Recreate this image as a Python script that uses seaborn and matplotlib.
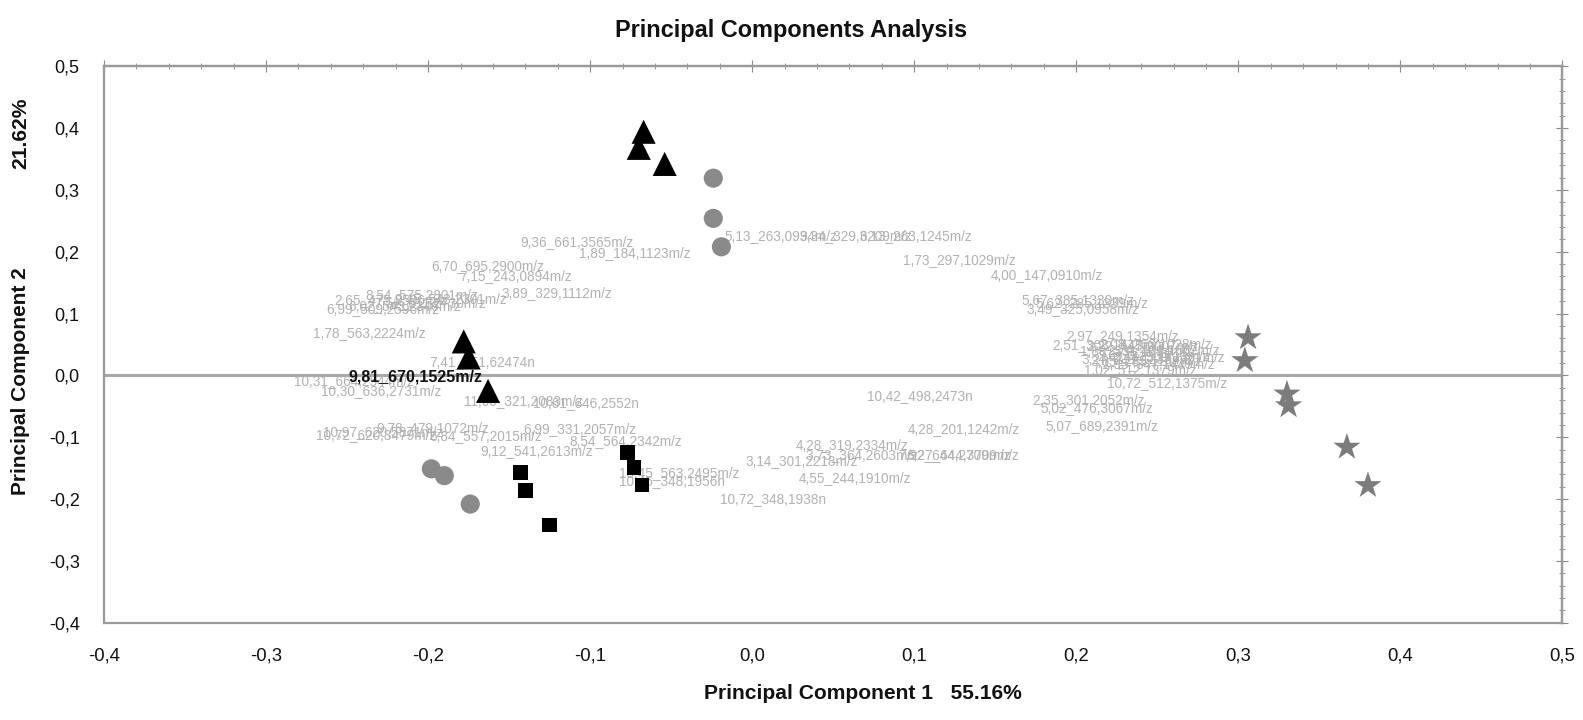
import matplotlib
matplotlib.use("Agg")
import matplotlib.pyplot as plt
from matplotlib import font_manager
from matplotlib.ticker import MultipleLocator, FuncFormatter, NullFormatter
import seaborn as sns
import pandas as pd

# ---------------- data ----------------
groups = ["triangle", "circle", "square", "star"]

tri_x = [-0.067, -0.070, -0.054, -0.178, -0.175, -0.163]
tri_y = [0.394, 0.368, 0.342, 0.055, 0.029, -0.025]

cir_x = [-0.024, -0.024, -0.019, -0.198, -0.190, -0.174]
cir_y = [0.319, 0.254, 0.208, -0.151, -0.162, -0.208]

sq_x = [-0.077, -0.073, -0.068, -0.143, -0.140, -0.125]
sq_y = [-0.125, -0.149, -0.177, -0.157, -0.186, -0.242]

star_x = [0.306, 0.304, 0.330, 0.331, 0.367, 0.380]
star_y = [0.061, 0.024, -0.030, -0.049, -0.116, -0.178]

# loading labels (variable names and their PC1/PC2 positions)
load_names = [
    "9,36_661,3565m/z", "1,89_184,1123m/z", "6,70_695,2900m/z", "7,15_243,0894m/z",
    "3,89_329,1112m/z", "2,65_475,2596m/z", "8,54_575,2801m/z", "9,45_543,2301m/z",
    "6,99_509,2596m/z", "6,02_543,2346m/z", "7,51_611,2730m/z", "1,78_563,2224m/z",
    "7,41_551,62474n", "10,31_664,2544m/z", "10,30_636,2731m/z", "11,00_321,2083m/z",
    "10,61_646,2552n", "10,72_620,3479m/z", "9,78_479,1072m/z", "6,84_557,2015m/z",
    "6,99_331,2057m/z", "8,54_564,2342m/z", "9,12_541,2613m/z", "10,97_620,5871m/z",
    "10,45_563,2495m/z", "10,45_348,1956n", "3,14_301,2218m/z", "4,28_319,2334m/z",
    "3,73_364,2603m/z", "7,92_644,2709m/z", "6,27_644,3709m/z", "4,55_244,1910m/z",
    "10,72_348,1938n", "10,42_498,2473n", "4,28_201,1242m/z", "5,13_263,0934m/z",
    "9,34_329,3209m/z", "6,13_263,1245m/z", "1,73_297,1029m/z", "4,00_147,0910m/z",
    "5,67_385,1330m/z", "3,49_325,0958m/z", "5,62_285,1339m/z", "2,97_249,1354m/z",
    "2,51_303,1547m/z", "1,88_331,1394m/z", "2,22_445,2007m/z", "2,61_319,1713m/z",
    "3,05_285,1132m/z", "2,74_401,1662m/z", "1,95_347,1449m/z", "2,44_509,2331m/z",
    "3,27_271,1238m/z", "2,08_263,1028m/z", "1,02_512,1379m/z", "10,72_512,1375m/z",
    "2,35_301,2052m/z", "5,02_476,3067m/z", "5,07_689,2391m/z",
]
load_x = [
    -0.143, -0.107, -0.198, -0.181,
    -0.155, -0.258, -0.239, -0.221,
    -0.263, -0.249, -0.233, -0.271,
    -0.199, -0.283, -0.266, -0.178,
    -0.135, -0.269, -0.232, -0.199,
    -0.141, -0.113, -0.168, -0.265,
    -0.082, -0.082, -0.004, 0.027,
    0.033, 0.090, 0.095, 0.029,
    -0.020, 0.071, 0.096, -0.017,
    0.029, 0.066, 0.093, 0.147,
    0.166, 0.169, 0.175, 0.194,
    0.185, 0.202, 0.206, 0.213,
    0.209, 0.219, 0.216, 0.222,
    0.203, 0.214, 0.205, 0.219,
    0.173, 0.178, 0.181,
]
load_y = [
    0.215, 0.198, 0.177, 0.161,
    0.133, 0.122, 0.130, 0.123,
    0.107, 0.112, 0.117, 0.068,
    0.022, -0.009, -0.025, -0.041,
    -0.044, -0.097, -0.085, -0.098,
    -0.087, -0.106, -0.123, -0.092,
    -0.157, -0.170, -0.138, -0.113,
    -0.129, -0.128, -0.128, -0.166,
    -0.200, -0.033, -0.087, 0.226,
    0.226, 0.226, 0.187, 0.163,
    0.122, 0.107, 0.117, 0.063,
    0.049, 0.039, 0.047, 0.032,
    0.024, 0.041, 0.019, 0.029,
    0.027, 0.051, 0.008, -0.013,
    -0.040, -0.053, -0.082,
]

highlight_name = "9,81_670,1525m/z"
highlight_x = -0.249
highlight_y = -0.002

title = "Principal Components Analysis"
xlabel = "Principal Component 1   55.16%"
ylabel_a = "Principal Component 2"
ylabel_b = "21.62%"

# ---------------- style ----------------
sns.set_style("white")
avail = {f.name for f in font_manager.fontManager.ttflist}
NARROW = "Liberation Sans Narrow" if "Liberation Sans Narrow" in avail else "Liberation Sans"
narrow_scale = 1.0 if NARROW == "Liberation Sans Narrow" else 0.89
plt.rcParams["font.family"] = ["Liberation Sans", "DejaVu Sans"]

fig = plt.figure(figsize=(15.83, 7.2), dpi=100)
ax = fig.add_axes([0.0657, 0.135, 0.9213, 0.773])

frames = []
for g, xs, ys in [("triangle", tri_x, tri_y), ("circle", cir_x, cir_y),
                  ("square", sq_x, sq_y), ("star", star_x, star_y)]:
    frames.append(pd.DataFrame({"pc1": xs, "pc2": ys, "group": g}))
df = pd.concat(frames, ignore_index=True)

# loading labels first (behind markers)
for name, lx, ly in zip(load_names, load_x, load_y):
    ax.text(lx, ly, name, color="#b2b2b2", fontsize=11 * narrow_scale,
            family=NARROW, ha="left", va="center", zorder=2)
ax.text(highlight_x, highlight_y, highlight_name, color="#111111",
        fontsize=13 * narrow_scale, family=NARROW, fontweight="bold",
        ha="left", va="center", zorder=4)

ax.axhline(0, color="#a8a8a8", lw=2.2, zorder=1)

style = {
    "triangle": dict(marker="^", color="#000000", s=300),
    "circle": dict(marker="o", color="#8a8a8a", s=190),
    "square": dict(marker="s", color="#000000", s=110),
    "star": dict(marker="*", color="#7c7c7c", s=420),
}
for g in groups:
    sub = df[df.group == g]
    sns.scatterplot(data=sub, x="pc1", y="pc2", ax=ax, marker=style[g]["marker"],
                    color=style[g]["color"], s=style[g]["s"], edgecolor="none",
                    linewidth=0, legend=False, zorder=5)

ax.set_xlim(-0.4, 0.5)
ax.set_ylim(-0.4, 0.5)
ax.set_xlabel("")
ax.set_ylabel("")

fmt = FuncFormatter(lambda v, p: ("%.1f" % (0.0 if abs(v) < 1e-9 else v)).replace(".", ","))
ax.xaxis.set_major_locator(MultipleLocator(0.1))
ax.xaxis.set_minor_locator(MultipleLocator(0.02))
ax.yaxis.set_major_locator(MultipleLocator(0.1))
ax.yaxis.set_minor_locator(MultipleLocator(0.01))
ax.xaxis.set_major_formatter(fmt)
ax.yaxis.set_major_formatter(fmt)

tick_col = "#8a8a8a"
ax.tick_params(axis="both", which="major", direction="inout", length=11, width=1.2,
               color=tick_col, labelcolor="#111111")
ax.tick_params(axis="both", which="minor", direction="inout", length=6, width=1.0,
               color=tick_col)
ax.tick_params(axis="x", which="major", pad=12, labelsize=15 * narrow_scale)
ax.tick_params(axis="y", which="major", pad=12, labelsize=13)
for lab in ax.get_xticklabels():
    lab.set_family(NARROW)

for sp in ax.spines.values():
    sp.set_visible(True)
    sp.set_color("#9a9a9a")
    sp.set_linewidth(1.6)

secx = ax.secondary_xaxis("top")
secx.xaxis.set_major_locator(MultipleLocator(0.1))
secx.xaxis.set_minor_locator(MultipleLocator(0.02))
secx.xaxis.set_major_formatter(NullFormatter())
secx.tick_params(which="major", direction="inout", length=8, color=tick_col)
secx.tick_params(which="minor", direction="inout", length=5, color=tick_col)
secx.spines["top"].set_color("#9a9a9a")
secx.spines["top"].set_linewidth(1.6)

secy = ax.secondary_yaxis("right")
secy.yaxis.set_major_locator(MultipleLocator(0.1))
secy.yaxis.set_minor_locator(MultipleLocator(0.02))
secy.yaxis.set_major_formatter(NullFormatter())
secy.tick_params(which="major", direction="inout", length=8, color=tick_col)
secy.tick_params(which="minor", direction="inout", length=5, color=tick_col)
secy.spines["right"].set_color("#9a9a9a")
secy.spines["right"].set_linewidth(1.6)

fig.text(0.500, 0.957, title, ha="center", va="center", family=NARROW,
         fontweight="bold", fontsize=19 * narrow_scale, color="#111111")
fig.text(0.545, 0.037, xlabel, ha="center", va="center", family=NARROW,
         fontweight="bold", fontsize=17 * narrow_scale, color="#111111")
fig.text(0.013, 0.47, ylabel_a, ha="center", va="center", rotation=90,
         family="Liberation Sans", fontweight="bold", fontsize=15, color="#111111")
fig.text(0.013, 0.815, ylabel_b, ha="center", va="center", rotation=90,
         family=NARROW, fontweight="bold", fontsize=17 * narrow_scale, color="#111111")

fig.savefig("out.png", dpi=100, facecolor="white")
